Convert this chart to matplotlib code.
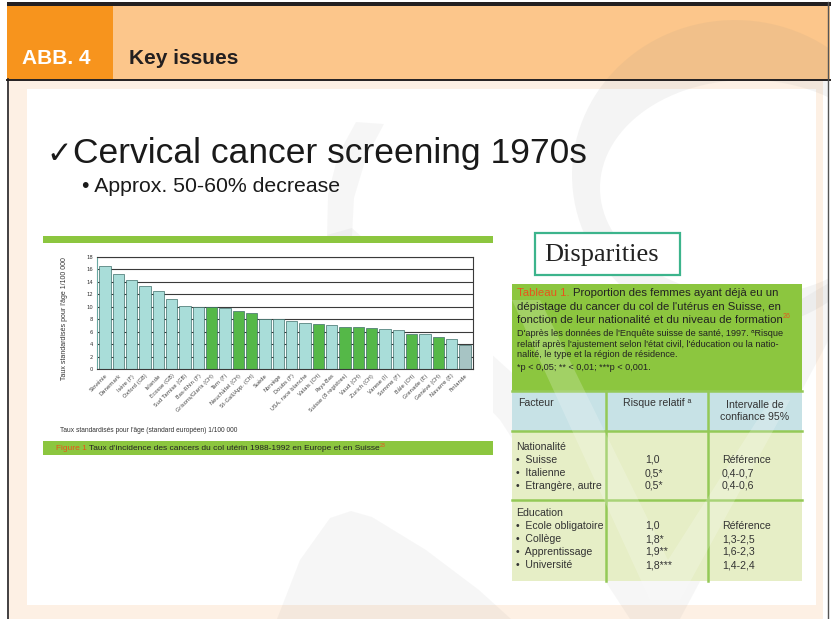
import numpy as np
import matplotlib
matplotlib.use("Agg")
import matplotlib.pyplot as plt
from matplotlib.patches import Rectangle, Polygon
from matplotlib.path import Path
from matplotlib.patches import PathPatch

W, H = 834, 619

# bar chart data (Figure 1, incidence per 100 000)
countries = [
    "Slovénie", "Danemark", "Isère (F)", "Oxford (GB)", "Islande",
    "Ecosse (GB)", "Sud Tamise (GB)", "Bas-Rhin (F)", "Grisons/Glaris (CH)",
    "Tarn (F)", "Neuchâtel (CH)", "St-Gall/App. (CH)", "Suède", "Norvège",
    "Doubs (F)", "USA, race blanche", "Valais (CH)", "Pays-Bas",
    "Suisse (8 registres)", "Vaud (CH)", "Zurich (CH)", "Varese (I)",
    "Somme (F)", "Bâle (CH)", "Grenade (E)", "Genève (CH)", "Navarre (E)",
    "Finlande",
]
rates = [16.5, 15.3, 14.3, 13.3, 12.5, 11.3, 10.1, 9.9, 9.9, 9.7, 9.3, 9.0,
         8.0, 8.0, 7.7, 7.4, 7.2, 7.1, 6.8, 6.7, 6.6, 6.4, 6.2, 5.6, 5.6,
         5.2, 4.8, 3.9]
is_swiss = [False] * 8 + [True, False, True, True, False, False, False,
                          False, True, False, True, True, True, False,
                          False, True, False, True, False, False]
yticks = list(range(0, 20, 2))

# table data (Tableau 1)
factors_nat = ["Suisse", "Italienne", "Etrangère, autre"]
rr_nat = ["1,0", "0,5*", "0,5*"]
ci_nat = ["Référence", "0,4-0,7", "0,4-0,6"]
factors_edu = ["Ecole obligatoire", "Collège", "Apprentissage", "Université"]
rr_edu = ["1,0", "1,8*", "1,9**", "1,8***"]
ci_edu = ["Référence", "1,3-2,5", "1,6-2,3", "1,4-2,4"]

NARROW = ["Liberation Sans Narrow", "DejaVu Sans Condensed",
          "Liberation Sans", "DejaVu Sans"]
SANS = ["Liberation Sans", "DejaVu Sans"]


def rect(ax, x0, y0, x1, y1, **kw):
    ax.add_patch(Rectangle((x0, y0), x1 - x0, y1 - y0, **kw))


def ellipse_pts(cx, cy, rx, ry, n=120, reverse=False):
    t = np.linspace(0, 2 * np.pi, n)
    if reverse:
        t = t[::-1]
    return np.column_stack([cx + rx * np.cos(t), cy + ry * np.sin(t)])


def draw_frame(bg):
    # header band
    rect(bg, 7, 2, 831, 6, color="#231f20", lw=0)
    rect(bg, 7, 6, 113, 79, color="#f7941d", lw=0)
    rect(bg, 113, 6, 830, 79, color="#fcc68b", lw=0)
    bg.text(22, 58, "ABB. 4", color="white", fontsize=15, weight="bold",
            family=NARROW, va="center", ha="left")
    bg.text(129, 58, "Key issues", color="#231f20", fontsize=15,
            weight="bold", family=NARROW, va="center", ha="left")
    # peach frame and white slide
    rect(bg, 9, 80, 823, 619, color="#fdf0e4", lw=0)
    rect(bg, 27, 89, 816, 605, color="white", lw=0)
    bg.plot([7, 830], [79.5, 79.5], color="#231f20", lw=1.4, zorder=4)
    bg.plot([8, 8], [79, 619], color="#231f20", lw=1.2, zorder=4)
    bg.plot([828.5, 828.5], [2, 619], color="#555555", lw=1.0, zorder=4)


def draw_watermark(bg):
    clip = Rectangle((0, 0), 828, H, transform=bg.transData)
    # faint crescent at top right
    outer = ellipse_pts(735, 175, 163, 155)
    inner = ellipse_pts(748, 188, 148, 108, reverse=True)
    verts = np.vstack([outer, inner])
    codes = ([Path.MOVETO] + [Path.LINETO] * (len(outer) - 1)
             + [Path.MOVETO] + [Path.LINETO] * (len(inner) - 1))
    p = bg.add_patch(PathPatch(Path(verts, codes), color="#8a8a8a",
                               alpha=0.09, lw=0, zorder=1))
    p.set_clip_path(clip)
    # hook above the chart
    bg.add_patch(Polygon([(356, 122), (384, 124), (366, 158), (354, 198),
                          (352, 237), (327, 237), (328, 195), (338, 155)],
                         closed=True, color="#8a8a8a", alpha=0.07, lw=0,
                         zorder=1))
    # long stroke and V
    p = bg.add_patch(Polygon([(327, 235), (352, 228), (520, 380),
                              (660, 580), (800, 300), (834, 280),
                              (834, 330), (680, 619), (630, 619),
                              (500, 420)],
                             closed=True, color="#8a8a8a", alpha=0.07,
                             lw=0, zorder=1))
    p.set_clip_path(clip)
    # light wash of the V over the table
    bg.add_patch(Polygon([(512, 300), (540, 300), (668, 560), (770, 400),
                          (790, 400), (680, 600), (650, 600)],
                         closed=True, color="white", alpha=0.2, lw=0,
                         zorder=4))
    # arch at the bottom
    bg.add_patch(Polygon([(277, 619), (300, 560), (330, 518), (351, 511),
                          (372, 517), (426, 550), (479, 590), (511, 619)],
                         closed=True, color="#8a8a8a", alpha=0.07, lw=0,
                         zorder=1))


def draw_titles(bg):
    bg.text(46, 154, "\u2713", fontsize=22, family=["DejaVu Sans"],
            color="#1a1a1a", va="center", ha="left", zorder=5)
    bg.text(73, 153, "Cervical cancer screening 1970s", fontsize=25.5,
            family=SANS, color="#1a1a1a", va="center", ha="left", zorder=5)
    bg.text(82, 186, "\u2022 Approx. 50-60% decrease", fontsize=15.3,
            family=SANS, color="#1a1a1a", va="center", ha="left", zorder=5)


def draw_chart_frame(bg):
    rect(bg, 43, 236, 493, 243, color="#8cc63f", lw=0, zorder=2)
    rect(bg, 43, 243, 493, 458, color="white", lw=0, zorder=1.5)
    bg.text(65, 319, "Taux standardisés pour l'âge 1/100 000", fontsize=5.0,
            rotation=90, va="center", ha="center", family=SANS,
            color="#333333", zorder=5)
    bg.text(60, 431, "Taux standardisés pour l'âge (standard européen) "
            "1/100 000", fontsize=4.8, family=SANS, color="#333333",
            va="center", zorder=5)
    rect(bg, 43, 441, 493, 455, color="#8cc63f", lw=0, zorder=2)
    t = bg.text(56, 448, "Figure 1 ", fontsize=6.0, family=SANS,
                color="#e8541c", va="center", zorder=5)
    t = bg.annotate("Taux d'incidence des cancers du col utérin 1988-1992 "
                    "en Europe et en Suisse", xycoords=t, xy=(1, 0.5),
                    va="center", fontsize=6.0, family=SANS, color="#222222",
                    zorder=5)
    bg.annotate("23", xycoords=t, xy=(1, 0.9), va="center", fontsize=3.8,
                family=SANS, color="#e8541c", zorder=5)


def draw_bars(fig):
    ax = fig.add_axes([97 / W, 1 - 369 / H, (473 - 97) / W,
                       (369 - 256.7) / H], zorder=3)
    x = np.arange(len(rates))
    colors = ["#55b848" if s else "#a9ddd9" for s in is_swiss]
    colors[-1] = "#a7c4c4"
    ax.bar(x, rates, width=0.86, color=colors, edgecolor="#3f6f6a",
           linewidth=0.5, zorder=2)
    ax.set_xlim(-0.6, len(rates) - 0.4)
    ax.set_ylim(0, 18)
    ax.set_yticks(yticks)
    ax.set_yticklabels([str(v) for v in yticks], fontsize=3.8,
                       color="#333333")
    ax.set_xticks(x)
    ax.set_xticklabels(countries, rotation=45, ha="right",
                       rotation_mode="anchor", fontsize=3.9, color="#444444")
    ax.tick_params(length=0, pad=3)
    ax.yaxis.grid(True, color="#3a3a3a", lw=0.8, zorder=1)
    ax.set_axisbelow(True)
    for side in ["top", "right", "bottom"]:
        ax.spines[side].set_color("#3a3a3a")
        ax.spines[side].set_linewidth(0.8)
    ax.spines["left"].set_color("#6aa9a3")
    ax.patch.set_alpha(0)


def draw_table(bg):
    # Disparities box
    rect(bg, 535, 233, 680, 275, facecolor="white", edgecolor="#3cb48c",
         lw=1.6, zorder=5)
    bg.text(544, 255, "Disparities", fontsize=19,
            family=["Liberation Serif", "DejaVu Serif"], color="#222222",
            va="center", ha="left", zorder=6)

    x0, x1, c1, c2 = 512, 802, 606, 708
    rect(bg, x0, 284, x1, 391, color="#8cc63f", lw=0, zorder=2)
    rect(bg, x0, 391, x1, 431, color="#c7e2e6", lw=0, zorder=2)
    rect(bg, x0, 431, x1, 581, color="#e6eec6", lw=0, zorder=2)
    green = "#94c957"
    for yy in [391, 431, 500]:
        bg.plot([x0, x1], [yy, yy], color=green, lw=1.8, zorder=3)
    for xx in [c1, c2]:
        bg.plot([xx, xx], [391, 581], color=green, lw=1.8, zorder=3)

    # caption in the green band
    big = 8.2
    t = bg.text(517, 293, "Tableau 1. ", fontsize=big, family=SANS,
                color="#e8541c", va="center", zorder=5)
    bg.annotate("Proportion des femmes ayant déjà eu un", xycoords=t,
                xy=(1, 0.5), va="center", fontsize=big, family=SANS,
                color="#222222", zorder=5)
    bg.text(517, 306.5, "dépistage du cancer du col de l'utérus en Suisse, "
            "en", fontsize=big, family=SANS, color="#222222", va="center",
            zorder=5)
    t = bg.text(517, 320, "fonction de leur nationalité et du niveau de "
                "formation", fontsize=big, family=SANS, color="#222222",
                va="center", zorder=5)
    bg.annotate("26", xycoords=t, xy=(1, 0.9), va="center", fontsize=5,
                family=SANS, color="#e8541c", zorder=5)
    small = ["D'après les données de l'Enquête suisse de santé, 1997. "
             "ᵃRisque",
             "relatif après l'ajustement selon l'état civil, l'éducation "
             "ou la natio-",
             "nalité, le type et la région de résidence."]
    for i, line in enumerate(small):
        bg.text(517, 334 + i * 10.3, line, fontsize=6.6, family=SANS,
                color="#222222", va="center", zorder=5)
    bg.text(517, 367, "*p < 0,05; ** < 0,01; ***p < 0,001.", fontsize=6.6,
            family=SANS, color="#222222", va="center", zorder=5)

    # header row
    fs = 7.6
    bg.text(518, 403, "Facteur", fontsize=fs, family=NARROW,
            color="#333333", va="center", zorder=5)
    bg.text(657, 403, "Risque relatif ᵃ", fontsize=fs, family=NARROW,
            color="#333333", va="center", ha="center", zorder=5)
    bg.text(755, 411, "Intervalle de\nconfiance 95%", fontsize=fs,
            family=NARROW, color="#333333", va="center", ha="center",
            linespacing=1.3, zorder=5)

    # body rows
    def section(title, y, names, rr, ci):
        bg.text(516, y, title, fontsize=fs, family=NARROW, color="#333333",
                va="center", zorder=5)
        for i, (n, r, c) in enumerate(zip(names, rr, ci)):
            yy = y + 13 * (i + 1)
            bg.text(516, yy, "\u2022  " + n, fontsize=fs, family=NARROW,
                    color="#333333", va="center", zorder=5)
            bg.text(645, yy, r, fontsize=fs, family=NARROW,
                    color="#333333", va="center", zorder=5)
            bg.text(722, yy, c, fontsize=fs, family=NARROW,
                    color="#333333", va="center", zorder=5)

    section("Nationalité", 447, factors_nat, rr_nat, ci_nat)
    section("Education", 513, factors_edu, rr_edu, ci_edu)


def main():
    fig = plt.figure(figsize=(W / 100, H / 100), dpi=100)
    fig.patch.set_facecolor("white")
    bg = fig.add_axes([0, 0, 1, 1])
    bg.set_xlim(0, W)
    bg.set_ylim(H, 0)
    bg.axis("off")

    draw_frame(bg)
    draw_chart_frame(bg)
    draw_titles(bg)
    draw_table(bg)
    draw_bars(fig)
    draw_watermark(bg)

    fig.savefig("out.png", dpi=100)


if __name__ == "__main__":
    main()
